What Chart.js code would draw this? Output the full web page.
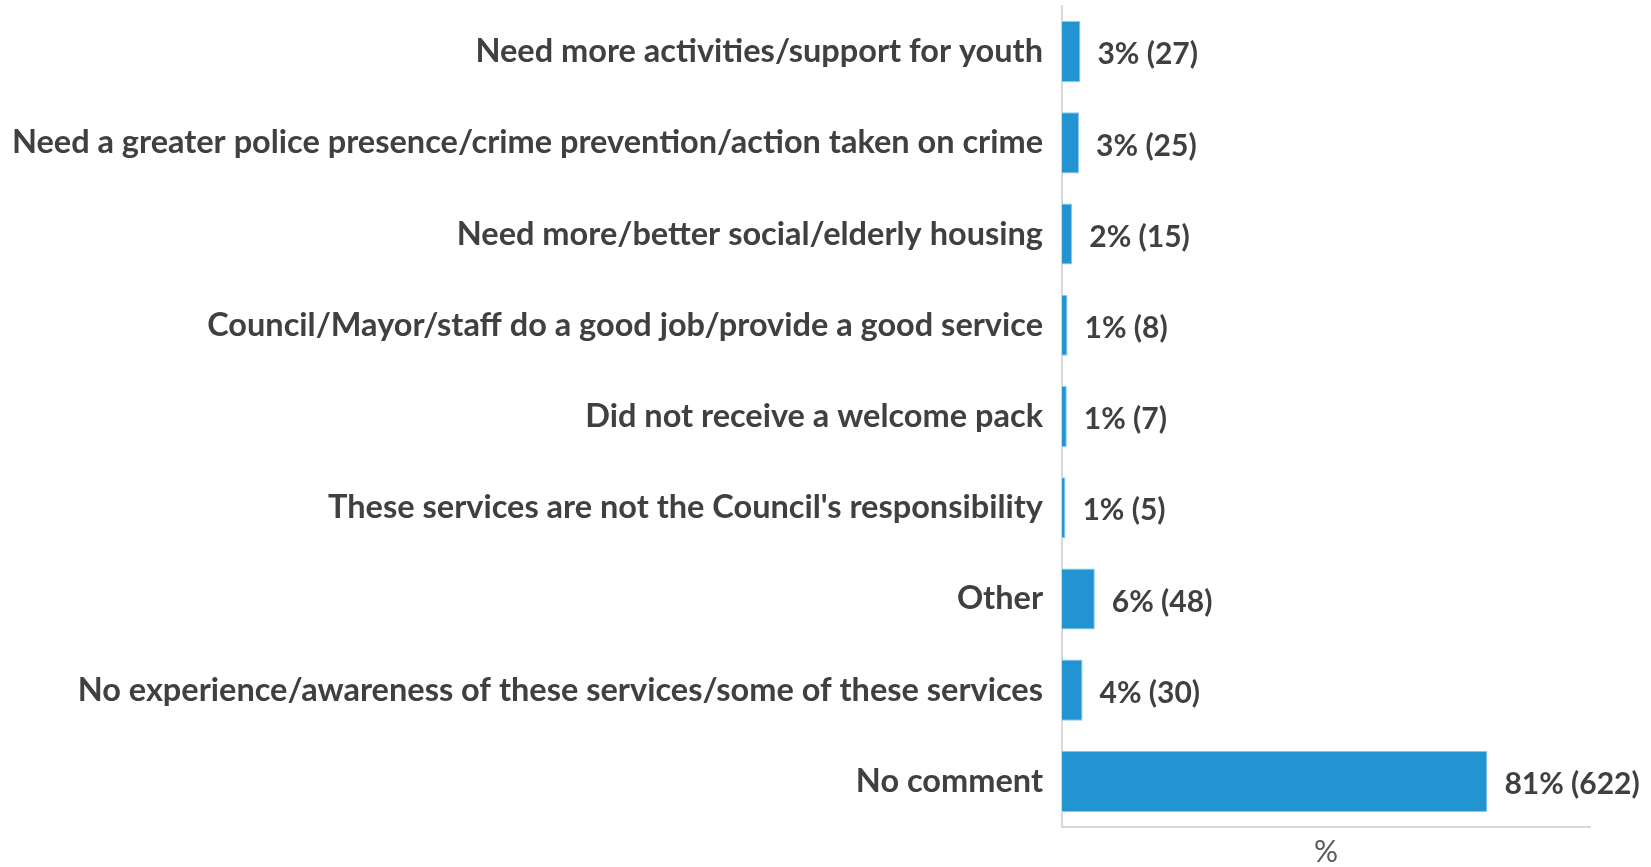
<!DOCTYPE html>
<html>
<head>
<meta charset="utf-8">
<title>Comments</title>
<script src="https://cdn.jsdelivr.net/npm/chart.js@4.4.1/dist/chart.umd.min.js"></script>
<style>
  html, body { margin: 0; padding: 0; background: #ffffff; }
  #wrap { width: 1651px; height: 867px; position: relative; }
</style>
</head>
<body>
<div id="wrap"><canvas id="comments-chart"></canvas></div>
<script>
// categories, top to bottom
const categories = [
    'Need more activities/support for youth',
    'Need a greater police presence/crime prevention/action taken on crime',
    'Need more/better social/elderly housing',
    'Council/Mayor/staff do a good job/provide a good service',
    'Did not receive a welcome pack',
    "These services are not the Council's responsibility",
    'Other',
    'No experience/awareness of these services/some of these services',
    'No comment'
];
// share of respondents (%) and number of mentions
const shares = [3.49, 3.24, 1.94, 1.04, 0.91, 0.65, 6.22, 3.89, 80.57];
const counts = [27, 25, 15, 8, 7, 5, 48, 30, 622];

const textColor = '#404040';
const labelFont = "bold 30px Lato";

// value labels like "3% (27)" to the right of each bar
const valueLabels = {
    id: 'valueLabels',
    afterDatasetsDraw(chart) {
        const ctx = chart.ctx;
        const meta = chart.getDatasetMeta(0);
        ctx.save();
        ctx.font = labelFont;
        ctx.fillStyle = textColor;
        ctx.textAlign = 'left';
        ctx.textBaseline = 'middle';
        meta.data.forEach((bar, i) => {
            const txt = `${Math.round(shares[i])}% (${counts[i]})`;
            ctx.fillText(txt, bar.x + 17, bar.y + 3);
        });
        ctx.restore();
    }
};

const ctx = document.getElementById('comments-chart').getContext('2d');
new Chart(ctx, {
    type: 'bar',
    data: {
        labels: categories,
        datasets: [{
            data: shares,
            backgroundColor: '#2394d2',
            borderColor: '#8ccbef',
            borderWidth: 1,
            borderSkipped: 'start',
            barPercentage: 0.67,
            categoryPercentage: 1
        }]
    },
    options: {
        indexAxis: 'y',
        responsive: true,
        maintainAspectRatio: false,
        animation: false,
        layout: { padding: { top: 6, right: 61, bottom: 0, left: 0 } },
        plugins: {
            legend: { display: false },
            tooltip: { enabled: false }
        },
        scales: {
            x: {
                min: 0,
                max: 100,
                grid: { display: false, drawTicks: false },
                border: { display: true, color: '#d9d9d9', width: 2 },
                ticks: { display: false },
                title: {
                    display: true,
                    text: '%',
                    color: '#595959',
                    font: { family: 'Lato', size: 30, lineHeight: 1 },
                    padding: { top: 0, bottom: 0 }
                },
                afterFit(scale) {
                    scale.height = 40;
                    scale.paddingLeft = 0;
                    scale.paddingRight = 0;
                }
            },
            y: {
                grid: { display: false, drawTicks: false },
                border: { display: true, color: '#d9d9d9', width: 2 },
                ticks: {
                    color: textColor,
                    font: { family: 'Lato', size: 32.5, weight: 'bold' },
                    padding: 19,
                    autoSkip: false
                },
                afterFit(scale) {
                    scale.width = 1062;
                    scale.paddingTop = 0;
                    scale.paddingBottom = 0;
                }
            }
        }
    },
    plugins: [valueLabels]
});
</script>
</body>
</html>
